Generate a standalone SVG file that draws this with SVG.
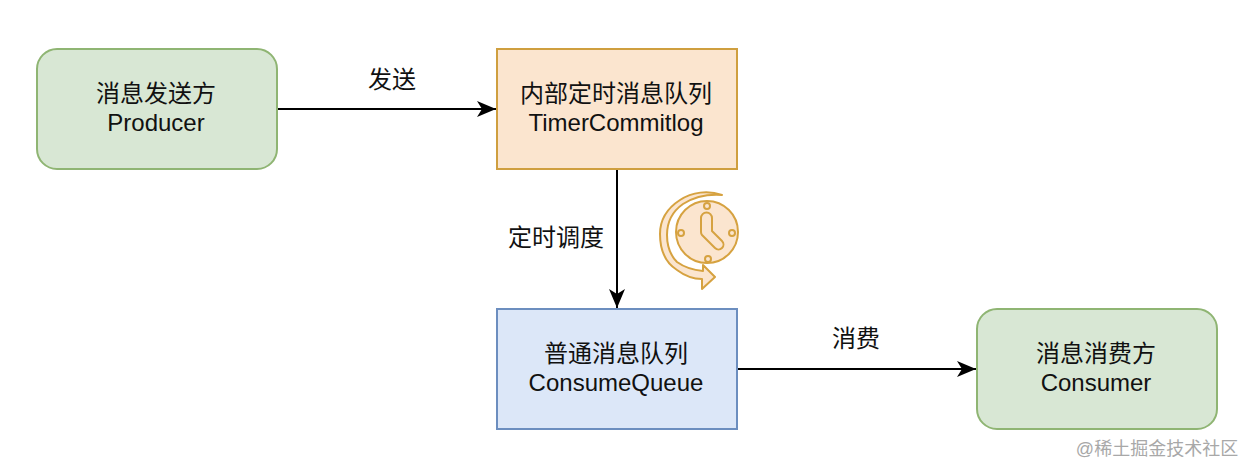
<svg xmlns="http://www.w3.org/2000/svg" width="1252" height="474" viewBox="0 0 1252 474">
<style>
text{font-family:"Liberation Sans","Noto Sans CJK SC",sans-serif;font-size:24px;fill:#111;text-anchor:middle}
.g{fill:#d8e7d4;stroke:#8fb573;stroke-width:2}
.o{fill:#fbe5cf;stroke:#cf9f3f;stroke-width:2}
.b{fill:#dce7f8;stroke:#6c8ebf;stroke-width:2}
.c{fill:none;stroke:#000;stroke-width:2}
.i{fill:#fbe5cf;stroke:#d6a240;stroke-width:2;stroke-linejoin:round}
</style>
<defs><marker id="a" markerUnits="userSpaceOnUse" markerWidth="22" markerHeight="18" refX="20" refY="9" orient="auto"><path d="M1 1L20 9L1 17L6 9Z" fill="#000"/></marker></defs>
<rect width="1252" height="474" fill="#fff"/>
<g id="connectors">
<path class="c" d="M277 109H496" marker-end="url(#a)"/>
<path class="c" d="M617 169V308" marker-end="url(#a)"/>
<path class="c" d="M737 369H976" marker-end="url(#a)"/>
</g>
<g id="producer"><rect class="g" x="37" y="49" width="240" height="120" rx="20"/><text x="156" y="102">消息发送方</text><text x="156" y="131">Producer</text></g>
<g id="timer"><rect class="o" x="497" y="49" width="240" height="120"/><text x="616" y="102">内部定时消息队列</text><text x="616" y="131">TimerCommitlog</text></g>
<g id="queue"><rect class="b" x="497" y="309" width="240" height="120"/><text x="616" y="362">普通消息队列</text><text x="616" y="391">ConsumeQueue</text></g>
<g id="consumer"><rect class="g" x="977" y="309" width="240" height="120" rx="20"/><text x="1096" y="362">消息消费方</text><text x="1096" y="391">Consumer</text></g>
<g id="labels"><text x="392" y="88">发送</text><text x="556" y="246">定时调度</text><text x="856" y="347">消费</text></g>
<g id="clock">
<path class="i" d="M722 195C708 190 692 192 680 200C666 209 660 221 660 234C660 250 666 263 677 270C685 276 693 279 702 279V289L715 277L703 265V271C692 270 684 267 677 262C670 255 667 245 667 235C667 222 673 211 683 204C694 197 708 194 722 195Z"/>
<circle class="i" cx="707" cy="232" r="31"/>
<circle class="i" cx="707" cy="206" r="3"/><circle class="i" cx="732" cy="233" r="3"/><circle class="i" cx="708" cy="259" r="3"/><circle class="i" cx="681" cy="233" r="3"/>
<path class="i" d="M701 218A5.500 5.500 0 0 1 712 218V231L722 241A4.500 4.500 0 0 1 715 248L702 235Q701 234 701 232Z"/>
</g>
<text id="watermark" x="1157" y="455" style="font-size:18px;fill:#a8a8a8">@稀土掘金技术社区</text>
</svg>
